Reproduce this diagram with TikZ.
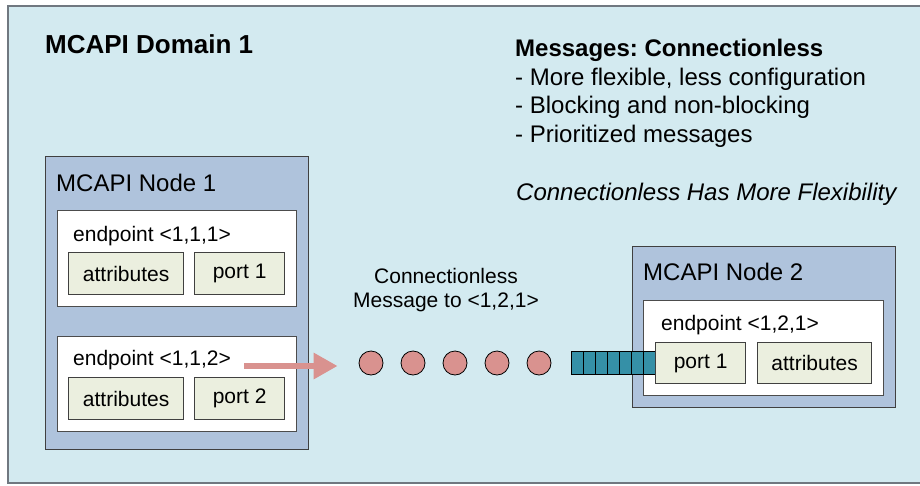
\documentclass[tikz,border=0pt]{standalone}
\usepackage{fontspec}
\setmainfont{Liberation Sans}
\usepackage{tikz}
\usetikzlibrary{arrows.meta}
\frenchspacing

\definecolor{domainbg}{RGB}{211,234,240}
\definecolor{domainline}{RGB}{112,120,128}
\definecolor{nodebg}{RGB}{175,195,220}
\definecolor{partbg}{RGB}{235,239,223}
\definecolor{msgpink}{RGB}{217,146,143}
\definecolor{queueteal}{RGB}{53,144,167}

\tikzset{
  nodebox/.style={draw=black!75,line width=1.2pt,fill=nodebg,inner sep=0pt,anchor=north west},
  epbox/.style={draw=black!70,line width=1.2pt,fill=white,inner sep=0pt,anchor=north west},
  partbox/.style={draw=black!75,line width=1.2pt,fill=partbg,inner sep=0pt,anchor=north west,
    font=\fontsize{21}{24}\selectfont},
  lbl/.style={inner sep=0pt,anchor=base west},
  msgdot/.style={circle,draw=black,line width=0.8pt,fill=msgpink,minimum size=24pt,inner sep=0pt},
  qcell/.style={draw=black,line width=0.8pt,fill=queueteal,minimum width=12pt,minimum height=23pt,
    inner sep=0pt,anchor=north west}
}

\begin{document}
\begin{tikzpicture}[x=1pt,y=-1pt]
\useasboundingbox (0,0) rectangle (920,485);

    % domain
    \draw[domainline,line width=2pt,fill=domainbg] (8,6) rectangle (924,483);
    \node[lbl,font=\fontsize{26}{30}\selectfont\bfseries] (dom) at (45,53) {MCAPI Domain 1};

    % notes
    \node[lbl,font=\fontsize{24}{28}\selectfont\bfseries] (msgtitle) at (515,56) {Messages: Connectionless};
    \node[lbl,font=\fontsize{24}{28}\selectfont] (note1) at (515,85) {- More flexible, less configuration};
    \node[lbl,font=\fontsize{24}{28}\selectfont] (note2) at (515,113) {- Blocking and non-blocking};
    \node[lbl,font=\fontsize{24}{28}\selectfont] (note3) at (515,142) {- Prioritized messages};
    \node[lbl,font=\fontsize{24}{28}\selectfont\itshape] (flex) at (516,200) {Connectionless Has More Flexibility};

    % node 1
    \node[nodebox,minimum width=263pt,minimum height=293pt] (node1) at (45,156) {};
    \node[lbl,font=\fontsize{24}{28}\selectfont] (node1lbl) at (56,191) {MCAPI Node 1};

    \node[epbox,minimum width=239pt,minimum height=96pt] (ep1) at (57,210) {};
    \node[lbl,font=\fontsize{21}{24}\selectfont] (ep1lbl) at (73,241) {endpoint <1,1,1>};
    \node[partbox,minimum width=115pt,minimum height=42pt] (attr1) at (68,252) {attributes};
    \node[partbox,minimum width=90pt,minimum height=42pt] (port1) at (194,252) {port 1};

    \node[epbox,minimum width=239pt,minimum height=95pt] (ep2) at (57,336) {};
    \node[lbl,font=\fontsize{21}{24}\selectfont] (ep2lbl) at (73,365) {endpoint <1,1,2>};
    \node[partbox,minimum width=115pt,minimum height=42pt] (attr2) at (68,377) {attributes};
    \node[partbox,minimum width=90pt,minimum height=42pt] (port2) at (194,377) {port 2};

    % node 2
    \node[nodebox,minimum width=263pt,minimum height=161pt] (node2) at (632,246) {};
    \node[lbl,font=\fontsize{24}{28}\selectfont] (node2lbl) at (643,280) {MCAPI Node 2};
    \node[epbox,minimum width=240pt,minimum height=95pt] (ep3) at (643,300) {};
    \node[lbl,font=\fontsize{21}{24}\selectfont] (ep3lbl) at (661,330) {endpoint <1,2,1>};

    % receive queue
    \foreach \k in {0,...,6}
        \node[qcell] (q\k) at (571+12*\k,351) {};

    \node[partbox,minimum width=90pt,minimum height=41pt] (port3) at (655,342) {port 1};
    \node[partbox,minimum width=114pt,minimum height=41pt] (attr3) at (757,342) {attributes};

    % messages in flight
    \node[font=\fontsize{21}{24}\selectfont,align=center,inner sep=0pt,anchor=base] (msglbl) at (446,307)
        {Connectionless\\Message to <1,2,1>};
    \foreach \i/\x in {1/371,2/413,3/455,4/497,5/539}
        \node[msgdot] (m\i) at (\x,363) {};

\begin{scope}[>={Triangle[length=24pt,width=25pt]}]
    \draw[msgpink,line width=6pt,->] ([xshift=13pt,yshift=-3pt]ep2lbl.east |- m1.west)
        -- ([xshift=-21pt,yshift=-3pt]m1.west);
\end{scope}
\end{tikzpicture}
\end{document}
